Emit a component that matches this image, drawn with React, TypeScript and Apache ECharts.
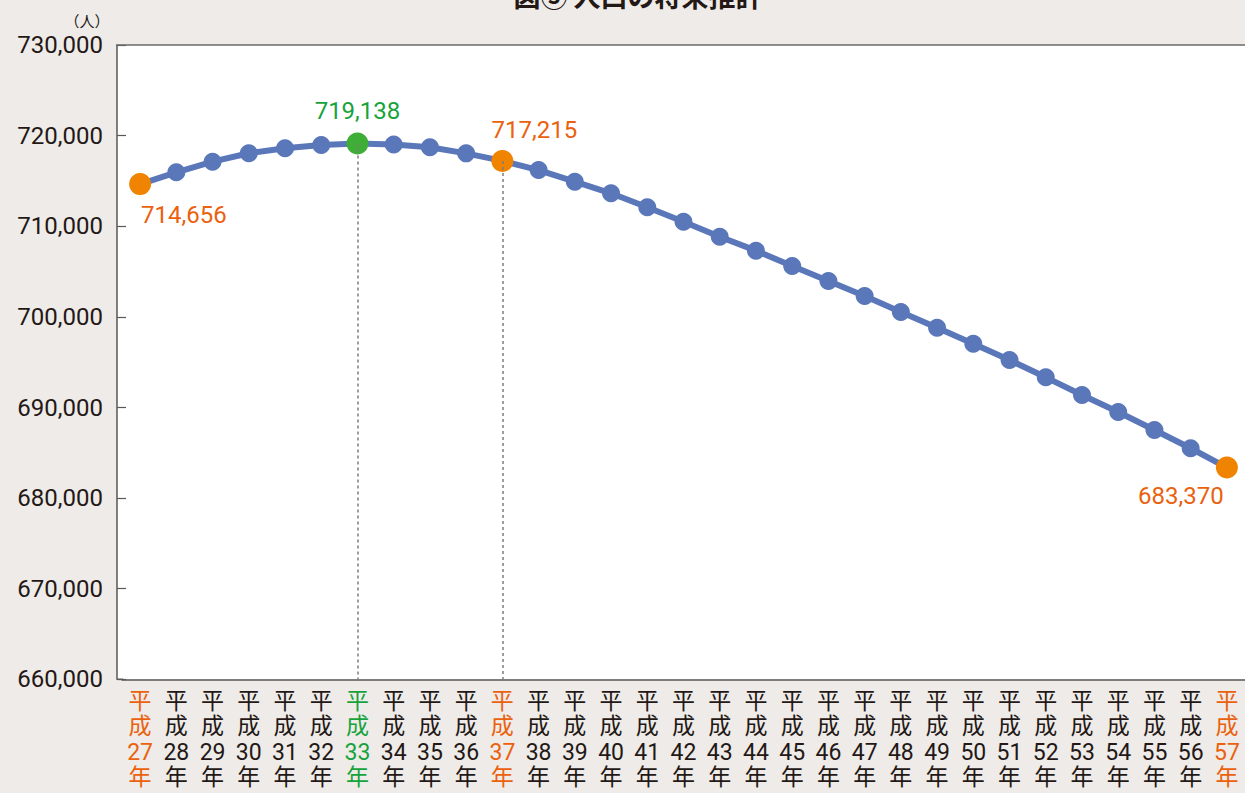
import React, { useEffect, useRef } from "react";
import * as echarts from "echarts";

const years = ["27","28","29","30","31","32","33","34","35","36","37","38","39","40","41","42","43","44","45","46","47","48","49","50","51","52","53","54","55","56","57"];
const population = [714656, 715960, 717130, 718060, 718610, 718970, 719138, 719030, 718720, 718050, 717215, 716210, 714920, 713640, 712100, 710510, 708850, 707310, 705620, 703960, 702310, 700540, 698810, 697040, 695240, 693330, 691380, 689500, 687520, 685500, 683370];
const orangeIdx = [0, 10, 30];
const greenIdx = [6];
const dashedIdx = [6, 10];
const yTicks = [660000, 670000, 680000, 690000, 700000, 710000, 720000, 730000];

const ORANGE = "#f08300";
const ORANGE_TXT = "#ea610e";
const GREEN = "#3fae36";
const GREEN_TXT = "#17a33c";
const BLUE = "#5a77b9";
const DARK = "#231815";
const FONT = "Roboto, 'Noto Sans CJK JP', sans-serif";

const labelCfg: Record<number, [number, number, string]> = {
  0: [1, 31, "left"],
  6: [0, -33, "center"],
  10: [32, -31, "center"],
  30: [-46, 28, "center"],
};

export default function App() {
  const ref = useRef<HTMLDivElement>(null);
  useEffect(() => {
    if (!ref.current) return;
    const chart = echarts.init(ref.current, null, { renderer: "svg" });
    const data = population.map((v, i) => {
      const isO = orangeIdx.includes(i);
      const isG = greenIdx.includes(i);
      if (!isO && !isG) return { value: v };
      const cfg = labelCfg[i];
      return {
        value: v,
        symbolSize: 22,
        itemStyle: { color: isO ? ORANGE : GREEN },
        label: {
          show: true,
          position: "inside",
          align: cfg[2],
          verticalAlign: "middle",
          offset: [cfg[0], cfg[1]],
          color: isO ? ORANGE_TXT : GREEN_TXT,
          fontSize: 24,
          fontFamily: FONT,
          formatter: (p: any) => Number(p.value).toLocaleString("en-US"),
        },
      };
    });
    chart.setOption({
      animation: false,
      backgroundColor: "#eeebe8",
      grid: { left: 122, width: 1124, top: 45.1, bottom: 113.7 },
      xAxis: {
        type: "category",
        data: years,
        boundaryGap: true,
        axisLine: { lineStyle: { color: "#595757", width: 1.5 } },
        axisTick: { alignWithLabel: true, inside: true, length: 9, lineStyle: { color: "#595757", width: 1.2 } },
        axisLabel: {
          interval: 0,
          margin: 9,
          fontSize: 23,
          lineHeight: 25.5,
          fontFamily: FONT,
          formatter: (v: string) => "平\n成\n" + v + "\n年",
          color: (_v: any, i: number) =>
            orangeIdx.includes(i) ? ORANGE_TXT : greenIdx.includes(i) ? GREEN_TXT : DARK,
        },
        splitLine: { show: false },
      },
      yAxis: {
        type: "value",
        min: yTicks[0],
        max: yTicks[yTicks.length - 1],
        interval: yTicks[1] - yTicks[0],
        offset: 5,
        axisLine: { show: true, lineStyle: { color: "#595757", width: 1.5 } },
        axisTick: { show: true, inside: true, length: 9, lineStyle: { color: "#595757", width: 1.2 } },
        axisLabel: {
          margin: 14,
          fontSize: 24,
          fontFamily: FONT,
          color: DARK,
          formatter: (v: number) => v.toLocaleString("en-US"),
        },
        splitLine: { show: false },
      },
      graphic: [
        { type: "rect", z: -10, shape: { x: 117, y: 45, width: 1130, height: 634.3 }, style: { fill: "#ffffff" } },
        { type: "line", z: 10, shape: { x1: 116.3, y1: 45, x2: 1245, y2: 45 }, style: { stroke: "#6d6866", lineWidth: 1.5 } },
        { type: "line", z: 10, shape: { x1: 117, y1: 679.3, x2: 123, y2: 679.3 }, style: { stroke: "#595757", lineWidth: 1.5 } },
        { type: "text", x: 638, y: -5, style: { text: "図⑤ 人口の将来推計", fill: DARK, fontSize: 27, fontWeight: "bold", fontFamily: "Noto Sans CJK JP", align: "center", verticalAlign: "middle" } },
        { type: "text", x: 87, y: 20, style: { text: "（人）", fill: DARK, fontSize: 15, fontFamily: "Noto Sans CJK JP", align: "center", verticalAlign: "middle" } },
      ],
      series: [
        {
          type: "line",
          data,
          symbol: "circle",
          symbolSize: 18,
          itemStyle: { color: BLUE },
          lineStyle: { color: BLUE, width: 6 },
          z: 3,
          markLine: {
            silent: true,
            symbol: "none",
            label: { show: false },
            lineStyle: { color: "#7d7d7d", type: [3, 3], width: 1.5 },
            data: dashedIdx.map((i) => [
              { coord: [i, population[i]] },
              { coord: [i, yTicks[0]] },
            ]),
          },
        },
      ],
    });
    return () => chart.dispose();
  }, []);
  return <div ref={ref} style={{ position: "absolute", left: 0, top: 0, width: 1245, height: 793 }} />;
}
